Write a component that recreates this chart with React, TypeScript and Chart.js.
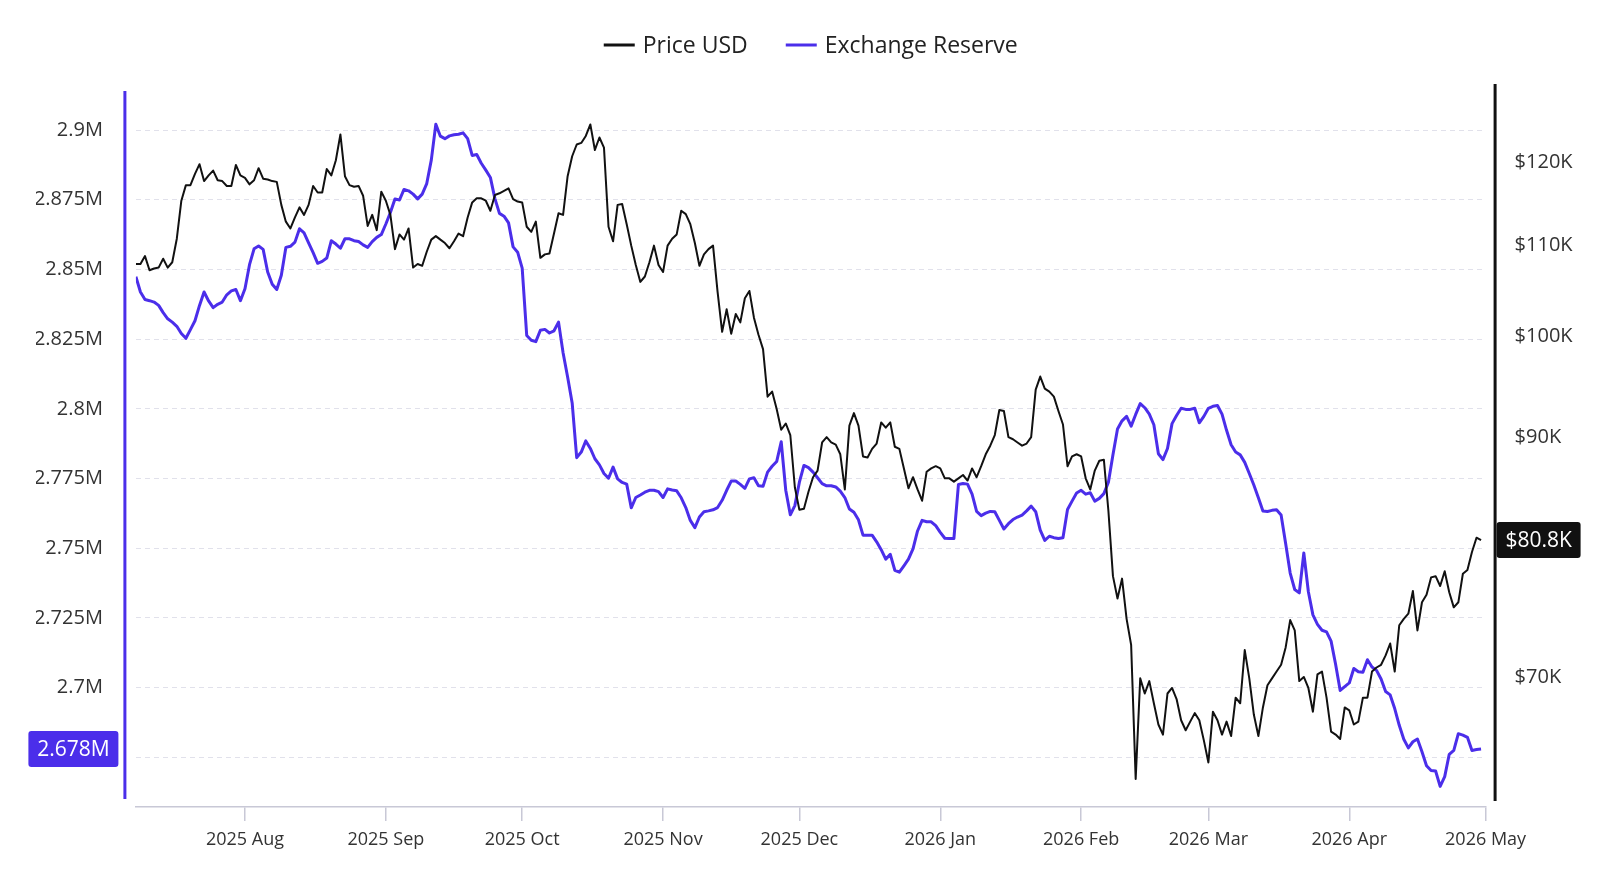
import React, { useEffect, useRef } from 'react';
import { Chart, registerables } from 'chart.js';

Chart.register(...registerables);

// ---------- data ----------
const START_DATE = '2025-07-08'; // first daily observation

const priceK = [
  107.9, 107.9, 108.8, 107.2, 107.4, 107.5, 108.5, 107.5, 108.1, 110.8,
  115.3, 117.2, 117.2, 118.6, 119.8, 117.7, 118.4, 119.0, 117.8, 117.7,
  117.1, 117.1, 119.7, 118.4, 118.1, 117.3, 117.8, 119.3, 118.0, 117.9,
  117.7, 117.6, 114.8, 112.8, 112.0, 113.3, 114.5, 113.6, 114.8, 117.1,
  116.3, 116.3, 119.2, 118.4, 120.3, 123.6, 118.3, 117.2, 117.0, 117.1,
  115.9, 112.3, 113.6, 111.8, 116.4, 115.3, 113.6, 109.6, 111.3, 110.7,
  112.0, 107.5, 107.9, 107.7, 109.3, 110.7, 111.1, 110.7, 110.3, 109.7,
  110.5, 111.4, 111.1, 113.3, 115.1, 115.6, 115.6, 115.3, 114.1, 116.0,
  116.2, 116.5, 116.8, 115.5, 115.2, 115.1, 112.2, 111.6, 112.8, 108.6,
  109.0, 109.1, 111.4, 113.8, 113.6, 118.3, 120.8, 122.3, 122.5, 123.4,
  124.9, 121.6, 123.2, 121.9, 112.2, 110.5, 114.8, 114.9, 112.5, 110.0,
  107.8, 105.9, 106.5, 108.1, 110.0, 107.8, 107.0, 110.0, 110.8, 111.3,
  114.1, 113.7, 112.5, 110.3, 107.7, 109.0, 109.6, 110.0, 104.8, 100.5,
  102.9, 100.3, 102.4, 101.5, 104.1, 104.9, 102.0, 100.2, 98.7, 93.9,
  94.4, 92.7, 90.7, 91.3, 90.2, 85.4, 83.4, 83.5, 85.0, 86.3,
  86.9, 89.5, 90.0, 89.5, 89.3, 88.4, 85.2, 91.1, 92.3, 91.1,
  88.2, 88.1, 88.9, 89.4, 91.4, 90.9, 91.4, 89.1, 88.9, 87.1,
  85.3, 86.3, 85.2, 84.2, 86.8, 87.1, 87.3, 87.1, 86.2, 86.2,
  85.9, 86.2, 86.5, 86.0, 87.1, 86.3, 87.3, 88.4, 89.2, 90.2,
  92.6, 92.5, 90.0, 89.8, 89.5, 89.2, 89.4, 90.0, 94.6, 95.9,
  94.7, 94.4, 93.9, 92.5, 91.2, 87.3, 88.2, 88.4, 88.2, 86.2,
  85.2, 86.9, 87.8, 87.9, 83.3, 77.8, 76.0, 77.6, 74.4, 72.4,
  62.9, 69.9, 68.8, 69.7, 68.1, 66.6, 65.9, 68.8, 69.2, 68.4,
  66.9, 66.2, 66.8, 67.4, 66.9, 65.5, 64.0, 67.5, 66.9, 65.9,
  66.8, 65.8, 68.5, 68.1, 72.0, 69.9, 67.3, 65.8, 67.8, 69.4,
  69.9, 70.4, 70.9, 72.2, 74.3, 73.5, 69.7, 70.0, 69.2, 67.5,
  70.2, 70.4, 68.5, 66.1, 65.9, 65.6, 67.8, 67.6, 66.6, 66.8,
  68.5, 68.5, 70.4, 70.7, 70.9, 71.6, 72.5, 70.4, 73.9, 74.4,
  74.8, 76.6, 73.5, 75.7, 76.3, 77.7, 77.8, 77.0, 78.2, 76.5,
  75.3, 75.7, 78.0, 78.3, 79.8, 81.0, 80.8,
];

const reserveK = [
  2847.4, 2841.9, 2839.2, 2838.8, 2838.3, 2837.1, 2834.5, 2832.3, 2831.1, 2829.6,
  2827.0, 2825.3, 2828.4, 2831.6, 2837.1, 2841.9, 2838.7, 2836.3, 2837.5, 2838.3,
  2840.9, 2842.3, 2842.8, 2838.8, 2843.1, 2851.7, 2857.4, 2858.4, 2857.2, 2849.1,
  2844.7, 2842.8, 2847.9, 2857.9, 2858.3, 2859.8, 2864.6, 2863.1, 2859.5, 2856.0,
  2852.2, 2852.9, 2854.1, 2860.3, 2859.1, 2857.6, 2861.0, 2861.0, 2860.3, 2860.0,
  2858.8, 2857.9, 2860.0, 2861.5, 2862.5, 2866.3, 2870.4, 2875.3, 2874.9, 2878.7,
  2878.2, 2877.0, 2875.3, 2877.0, 2880.8, 2889.2, 2902.1, 2897.8, 2896.9, 2897.9,
  2898.3, 2898.5, 2899.0, 2896.9, 2890.9, 2891.2, 2888.1, 2885.6, 2883.0, 2875.4,
  2870.1, 2869.1, 2866.7, 2858.1, 2856.2, 2850.5, 2826.3, 2824.6, 2824.1, 2828.2,
  2828.5, 2827.2, 2828.0, 2831.1, 2820.1, 2811.4, 2802.1, 2782.5, 2784.5, 2788.5,
  2785.8, 2782.1, 2779.9, 2776.8, 2775.1, 2779.1, 2774.9, 2773.6, 2773.0, 2764.5,
  2768.2, 2769.1, 2770.1, 2770.8, 2770.8, 2770.3, 2768.2, 2771.3, 2770.9, 2770.6,
  2768.1, 2764.6, 2760.0, 2757.4, 2761.2, 2763.1, 2763.4, 2763.8, 2764.6, 2767.2,
  2770.8, 2774.1, 2774.1, 2772.9, 2771.5, 2774.9, 2775.3, 2772.4, 2772.2, 2777.3,
  2779.4, 2781.1, 2788.2, 2770.8, 2762.0, 2765.3, 2773.7, 2779.7, 2778.9, 2777.3,
  2775.3, 2773.2, 2772.4, 2772.4, 2772.0, 2770.5, 2768.2, 2764.1, 2762.9, 2760.2,
  2754.7, 2754.7, 2754.7, 2752.3, 2749.5, 2746.1, 2747.8, 2742.1, 2741.4, 2743.7,
  2746.1, 2749.8, 2756.2, 2760.0, 2759.5, 2759.5, 2758.1, 2755.7, 2753.6, 2753.5,
  2753.5, 2772.9, 2773.2, 2773.0, 2769.4, 2763.2, 2761.7, 2762.6, 2763.2, 2763.1,
  2760.0, 2756.9, 2758.8, 2760.3, 2761.2, 2761.9, 2763.4, 2765.1, 2763.1, 2756.5,
  2752.8, 2754.3, 2753.8, 2753.5, 2753.8, 2763.9, 2766.9, 2769.8, 2770.8, 2769.4,
  2769.9, 2766.9, 2767.9, 2769.6, 2773.7, 2783.5, 2792.8, 2795.7, 2797.3, 2793.8,
  2798.0, 2801.9, 2800.4, 2798.1, 2794.3, 2783.9, 2781.8, 2785.8, 2794.7, 2797.6,
  2800.2, 2799.8, 2799.8, 2800.2, 2795.0, 2797.3, 2800.2, 2800.9, 2801.2, 2798.1,
  2792.3, 2787.1, 2784.5, 2783.5, 2780.8, 2776.8, 2772.7, 2768.1, 2763.4, 2763.2,
  2763.6, 2763.8, 2761.9, 2751.7, 2741.1, 2735.2, 2734.0, 2748.3, 2734.4, 2726.1,
  2722.7, 2720.6, 2720.0, 2716.7, 2708.3, 2699.0, 2700.4, 2701.7, 2706.9, 2705.7,
  2705.5, 2710.0, 2707.4, 2706.2, 2703.1, 2698.6, 2697.4, 2692.5, 2686.5, 2681.5,
  2678.4, 2680.6, 2681.6, 2677.0, 2672.0, 2670.3, 2670.1, 2664.6, 2668.1, 2676.1,
  2677.5, 2683.5, 2683.0, 2682.2, 2677.5, 2677.8, 2678.0,
];

const monthTickDates = [
  '2025-08-01', '2025-09-01', '2025-10-01', '2025-11-01', '2025-12-01',
  '2026-01-01', '2026-02-01', '2026-03-01', '2026-04-01', '2026-05-01',
];
const monthTickLabels = [
  '2025 Aug', '2025 Sep', '2025 Oct', '2025 Nov', '2025 Dec',
  '2026 Jan', '2026 Feb', '2026 Mar', '2026 Apr', '2026 May',
];
const reserveTicksK = [2675, 2700, 2725, 2750, 2775, 2800, 2825, 2850, 2875, 2900];
const priceTicksK = [70, 90, 100, 110, 120];

// ---------- style ----------
const BLUE = '#4B2EEA';
const INK = '#111111';
const FONT = '"Open Sans", "Noto Sans", "DejaVu Sans", sans-serif';
const AXIS_GRAY = '#c8c8d6';
const GRID = 'rgba(200,200,218,0.55)';

const dayIndex = (iso: string) =>
  Math.round((Date.parse(iso) - Date.parse(START_DATE)) / 86400000);

const fmtReserve = (v: number) => parseFloat((v / 1000).toFixed(3)) + 'M';
const fmtPrice = (v: number) => '$' + Math.round(v) + 'K';

function roundRect(ctx: CanvasRenderingContext2D, x: number, y: number, w: number, h: number, r: number) {
  ctx.beginPath();
  ctx.moveTo(x + r, y);
  ctx.lineTo(x + w - r, y);
  ctx.quadraticCurveTo(x + w, y, x + w, y + r);
  ctx.lineTo(x + w, y + h - r);
  ctx.quadraticCurveTo(x + w, y + h, x + w - r, y + h);
  ctx.lineTo(x + r, y + h);
  ctx.quadraticCurveTo(x, y + h, x, y + h - r);
  ctx.lineTo(x, y + r);
  ctx.quadraticCurveTo(x, y, x + r, y);
  ctx.closePath();
}

const decorPlugin = {
  id: 'decor',
  afterDraw(chart: any) {
    const { ctx, chartArea, scales } = chart;
    ctx.save();

    // axis lines
    ctx.lineWidth = 3;
    ctx.strokeStyle = BLUE;
    ctx.beginPath();
    ctx.moveTo(chartArea.left - 11, chartArea.top);
    ctx.lineTo(chartArea.left - 11, chartArea.bottom - 8);
    ctx.stroke();
    ctx.strokeStyle = INK;
    ctx.beginPath();
    ctx.moveTo(chartArea.right + 9.5, chartArea.top - 7);
    ctx.lineTo(chartArea.right + 9.5, chartArea.bottom - 6);
    ctx.stroke();

    // last-value badges
    const ds = chart.data.datasets;
    const lastPrice = priceK[priceK.length - 1];
    const lastRes = reserveK[reserveK.length - 1];
    ctx.font = `21px ${FONT}`;
    ctx.textAlign = 'center';
    ctx.textBaseline = 'middle';

    const yR = scales.yRes.getPixelForValue(lastRes);
    const wL = 90, h = 36;
    const xL = chartArea.left - 17.5 - wL;
    roundRect(ctx, xL, yR - h / 2, wL, h, 3);
    ctx.fillStyle = ds[1].borderColor;
    ctx.fill();
    ctx.fillStyle = '#ffffff';
    ctx.fillText((lastRes / 1000).toFixed(3) + 'M', xL + wL / 2, yR + 1);

    const yP = scales.yPrice.getPixelForValue(lastPrice);
    const wR = 84;
    const xR = chartArea.right + 11;
    roundRect(ctx, xR, yP - h / 2, wR, h, 3);
    ctx.fillStyle = ds[0].borderColor;
    ctx.fill();
    ctx.fillStyle = '#ffffff';
    ctx.fillText('$' + lastPrice.toFixed(1) + 'K', xR + wR / 2, yP + 1);

    // legend
    ctx.font = `23px ${FONT}`;
    ctx.textAlign = 'left';
    const lineLen = 31, gapText = 8, gapItem = 38;
    const items = ds.map((d: any) => ({ label: d.label, color: d.borderColor, w: ctx.measureText(d.label).width }));
    const total = items.reduce((s: number, it: any) => s + lineLen + gapText + it.w, 0) + gapItem * (items.length - 1);
    let x = (chartArea.left + chartArea.right) / 2 - total / 2;
    const ly = 45;
    items.forEach((it: any) => {
      ctx.strokeStyle = it.color;
      ctx.lineWidth = 3;
      ctx.beginPath();
      ctx.moveTo(x, ly);
      ctx.lineTo(x + lineLen, ly);
      ctx.stroke();
      ctx.fillStyle = '#222';
      ctx.fillText(it.label, x + lineLen + gapText, ly + 1);
      x += lineLen + gapText + it.w + gapItem;
    });

    ctx.restore();
  },
};

export default function App() {
  const canvasRef = useRef<HTMLCanvasElement | null>(null);

  useEffect(() => {
    if (!canvasRef.current) return;
    const xMax = dayIndex(monthTickDates[monthTickDates.length - 1]);
    const chart = new Chart(canvasRef.current, {
      type: 'line',
      data: {
        datasets: [
          {
            label: 'Price USD',
            data: priceK.map((v, i) => ({ x: i, y: v })),
            yAxisID: 'yPrice',
            borderColor: INK,
            borderWidth: 2,
            pointRadius: 0,
            tension: 0,
            borderJoinStyle: 'round',
          },
          {
            label: 'Exchange Reserve',
            data: reserveK.map((v, i) => ({ x: i, y: v })),
            yAxisID: 'yRes',
            borderColor: BLUE,
            borderWidth: 3,
            pointRadius: 0,
            tension: 0,
            borderJoinStyle: 'round',
          },
        ],
      },
      options: {
        animation: false,
        responsive: false,
        layout: { padding: { top: 91, left: 35.9, right: 14.4, bottom: 15 } },
        plugins: {
          legend: { display: false },
          tooltip: { enabled: false },
        },
        scales: {
          x: {
            type: 'linear',
            min: 0,
            max: xMax,
            afterBuildTicks: (s: any) => {
              s.ticks = monthTickDates.map((d) => ({ value: dayIndex(d) }));
            },
            afterFit: (s: any) => {
              s.height = 60;
            },
            ticks: {
              autoSkip: false,
              maxRotation: 0,
              padding: 8,
              color: '#333',
              font: { family: FONT, size: 18 },
              callback: (_v: any, i: number) => monthTickLabels[i],
            },
            grid: {
              drawOnChartArea: false,
              drawTicks: true,
              tickLength: 14,
              color: AXIS_GRAY,
              lineWidth: 1.5,
            },
            border: { display: true, color: AXIS_GRAY, width: 1.5 },
          },
          yRes: {
            type: 'linear',
            position: 'left',
            min: 2657.2,
            max: 2914,
            afterBuildTicks: (s: any) => {
              s.ticks = reserveTicksK.map((v) => ({ value: v }));
            },
            afterFit: (s: any) => {
              s.width = 100;
            },
            ticks: {
              autoSkip: false,
              padding: 33,
              color: '#333',
              font: { family: FONT, size: 20 },
              callback: (v: any) => (v === reserveTicksK[0] ? '' : fmtReserve(v)),
            },
            grid: { drawTicks: false, color: GRID, lineWidth: 1 },
            border: { display: false, dash: [5, 4] },
          },
          yPrice: {
            type: 'logarithmic',
            position: 'right',
            min: 61.085,
            max: 129.35,
            afterBuildTicks: (s: any) => {
              s.ticks = priceTicksK.map((v) => ({ value: v }));
            },
            afterFit: (s: any) => {
              s.width = 100;
            },
            ticks: {
              autoSkip: false,
              padding: 29,
              color: '#333',
              font: { family: FONT, size: 20 },
              callback: (v: any) => fmtPrice(v),
            },
            grid: { display: false, drawTicks: false },
            border: { display: false },
          },
        },
      } as any,
      plugins: [decorPlugin],
    });
    return () => chart.destroy();
  }, []);

  return (
    <div style={{ position: 'absolute', left: 0, top: 0, width: 1600, height: 882, background: '#ffffff' }}>
      <canvas ref={canvasRef} width={1600} height={882} style={{ display: 'block', width: 1600, height: 882 }} />
    </div>
  );
}
